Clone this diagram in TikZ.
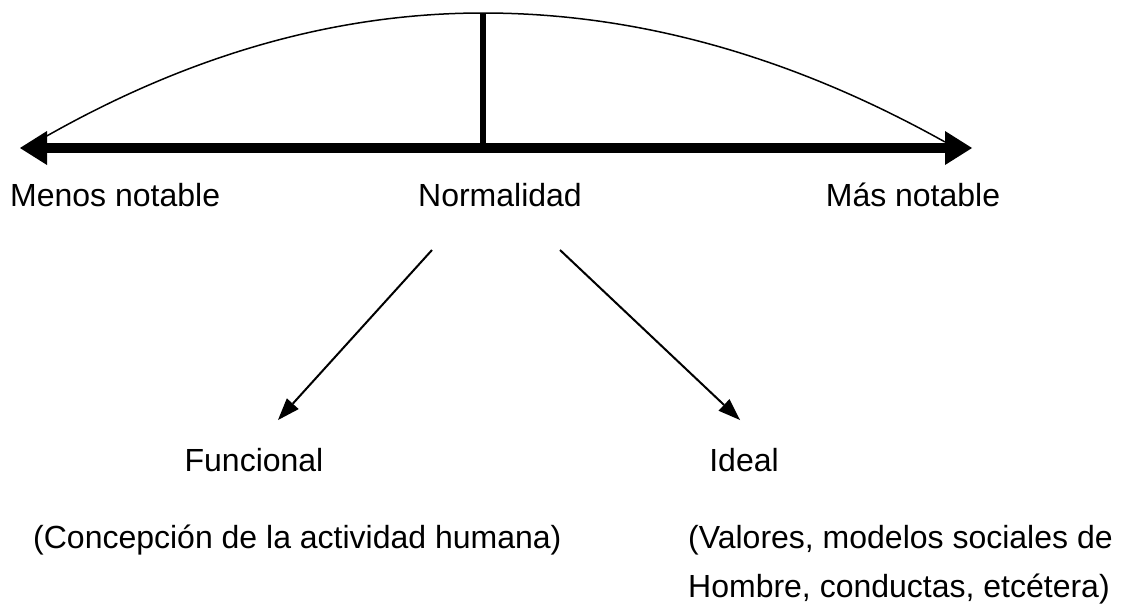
\documentclass[tikz,border=0pt]{standalone}
\usepackage{fontspec}
\setmainfont{Liberation Sans}
\usetikzlibrary{arrows.meta}
\begin{document}
\begin{tikzpicture}[x=1pt,y=-1pt,
  lbl/.style={inner sep=0pt, font=\fontsize{32}{38}\selectfont},
  axisline/.style={line width=10pt,
    {Triangle[length=27pt,width=34pt,line width=0pt]}-{Triangle[length=27pt,width=34pt,line width=0pt]}},
  stem/.style={line width=5.5pt},
  arc/.style={line width=1.5pt},
  thinarrow/.style={line width=2pt, -{Triangle[length=22pt,width=16pt,line width=0pt]}}]
\useasboundingbox (0,0) rectangle (1130,603);
% coordinates
\coordinate (axL) at (20,148);
\coordinate (axR) at (972,148);
\coordinate (top) at (483,13);
\coordinate (mid) at (483,148);
\coordinate (cL) at (45,137);
\coordinate (cR) at (945,142);
\coordinate (dLs) at (432,250);
\coordinate (dLe) at (278,420);
\coordinate (dRs) at (560,250);
\coordinate (dRe) at (740,420);
% axis
\draw[axisline] (axL) -- (axR);
\draw[stem] (top) -- (mid);
\draw[arc] (cL) .. controls (191,54) and (337,13) .. (top)
               .. controls (637,13) and (791,56) .. (cR);
% labels
\node[lbl, anchor=base west] (menos) at (10,206) {Menos notable};
\node[lbl, anchor=base] (norm) at (500,206) {Normalidad};
\node[lbl, anchor=base] (mas) at (913,206) {Más notable};
\node[lbl, anchor=base] (func) at (254,471) {Funcional};
\node[lbl, anchor=base] (ideal) at (744,471) {Ideal};
\node[lbl, anchor=base west] (conc) at (33,548) {(Concepción de la actividad humana)};
\node[lbl, anchor=base west] (val1) at (688,548) {(Valores, modelos sociales de};
\node[lbl, anchor=base west] (val2) at (688,597) {Hombre, conductas, etcétera)};
% diagonal arrows
\draw[thinarrow] (dLs) -- (dLe);
\draw[thinarrow] (dRs) -- (dRe);
\end{tikzpicture}
\end{document}
